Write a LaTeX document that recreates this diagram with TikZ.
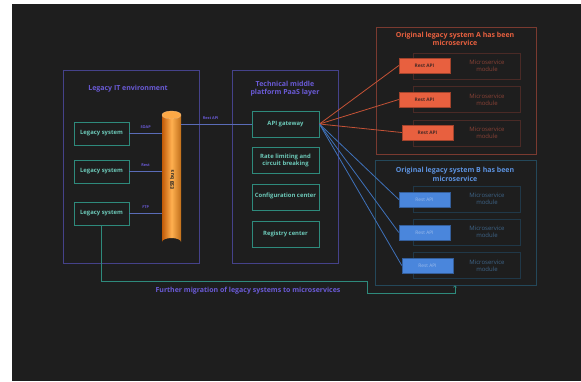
\documentclass[tikz,border=0pt]{standalone}
\usepackage{fontspec}
\setmainfont{Open Sans}
\usetikzlibrary{arrows.meta,calc}
\definecolor{bg}{HTML}{1E1E1E}
\definecolor{cont}{HTML}{45428A}
\definecolor{ttl}{HTML}{6A5AD6}
\definecolor{tealb}{HTML}{2E8A7C}
\definecolor{tealt}{HTML}{6CC8B8}
\definecolor{conn}{HTML}{5A6CB8}
\definecolor{redc}{HTML}{E8603F}
\definecolor{redb}{HTML}{7A3A30}
\definecolor{redm}{HTML}{4A2A26}
\definecolor{redtx}{HTML}{8A4236}
\definecolor{bluec}{HTML}{4A86DC}
\definecolor{blueb}{HTML}{24485A}
\definecolor{bluem}{HTML}{203848}
\definecolor{bluetx}{HTML}{3E6488}
\definecolor{orgA}{HTML}{F08A20}
\definecolor{orgB}{HTML}{FFB050}
\definecolor{orgC}{HTML}{C05A08}
\tikzset{
  x=1pt,y=-1pt,
  container/.style={draw=cont,line width=0.7pt},
  title/.style={text=ttl,font=\bfseries\fontsize{7}{8.4}\selectfont,align=center},
  tbox/.style={draw=tealb,line width=0.9pt,text=tealt,font=\bfseries\fontsize{5.9}{7.2}\selectfont,align=center,minimum width=#1,inner sep=0pt},
  lbl/.style={text=ttl,font=\bfseries\fontsize{3.8}{4.5}\selectfont},
  cline/.style={draw=conn,line width=0.8pt},
  modA/.style={draw=redm,line width=0.6pt,minimum width=107pt,minimum height=26pt,inner sep=0pt},
  modB/.style={draw=bluem,line width=0.6pt,minimum width=107pt,minimum height=26pt,inner sep=0pt},
  modtxt/.style={font=\fontsize{6}{7}\selectfont,align=center},
  restA/.style={fill=redc,draw=redc!70!black,line width=0.4pt,minimum width=51pt,minimum height=15pt,inner sep=0pt,text=redm,font=\bfseries\fontsize{4.8}{5.5}\selectfont},
  restB/.style={fill=bluec,draw=bluec!70!black,line width=0.4pt,minimum width=51pt,minimum height=15pt,inner sep=0pt,text=bluec!55!white,font=\fontsize{4.8}{5.5}\selectfont},
  redline/.style={draw=redc!85!black,line width=0.8pt},
  blueline/.style={draw=bluec!85!black,line width=0.8pt},
  migline/.style={draw=tealb,line width=0.8pt},
}
\begin{document}
\begin{tikzpicture}
\useasboundingbox (0,0) rectangle (581,381);
\fill[white] (0,0) rectangle (581,381);
\fill[bg] (12,4) rectangle (581,381);

% containers
\node[container,minimum width=136pt,minimum height=193pt,inner sep=0pt] (legacy) at (131,166.5) {};
\node[title] at (128,89) {Legacy IT environment};
\node[container,minimum width=106pt,minimum height=193pt,inner sep=0pt] (paas) at (285,166.5) {};
\node[title] at (285,88.5) {Technical middle\\platform PaaS layer};
\node[draw=redb,line width=0.7pt,minimum width=160pt,minimum height=127pt,inner sep=0pt] (sysA) at (456,90.5) {};
\node[title,text=redc] at (455,39) {Original legacy system A has been\\microservice};
\node[draw=blueb,line width=0.7pt,minimum width=161pt,minimum height=125pt,inner sep=0pt] (sysB) at (455.5,222.5) {};
\node[title,text=bluec!90!white] at (455,174.5) {Original legacy system B has been\\microservice};

% legacy systems
\node[tbox=55pt,minimum height=23pt] (ls1) at (101.5,133.5) {Legacy system};
\node[tbox=55pt,minimum height=23pt] (ls2) at (101.5,171.5) {Legacy system};
\node[tbox=55pt,minimum height=23pt] (ls3) at (101.5,213.5) {Legacy system};

% ESB cylinder
\coordinate (esbtop) at (171.5,115);
\shade[shading=axis,left color=orgC,right color=orgA!80!black,middle color=orgB] (162,115) -- (162,242) arc[start angle=180,end angle=360,x radius=9.5,y radius=4] -- (181,115) arc[start angle=0,end angle=180,x radius=9.5,y radius=4] -- cycle;
\fill[orgB!80!orgA] (esbtop) ellipse[x radius=9.5,y radius=4];
\draw[orgA!60!white,line width=0.3pt] (esbtop) ellipse[x radius=9.5,y radius=4];
\node[inner sep=0pt,minimum width=19pt,minimum height=135pt] (esb) at (171.5,178.5) {};
\node[rotate=90,text=black!85,font=\bfseries\fontsize{5}{6}\selectfont] at (172,180) {ESB bus};

\draw[cline] (ls1.east) -- (ls1.east -| esb.west) node[lbl,midway,above=1.5pt] {SOAP};
\draw[cline] (ls2.east) -- (ls2.east -| esb.west) node[lbl,midway,above=1.5pt] {Rest};
\draw[cline] (ls3.east) -- (ls3.east -| esb.west) node[lbl,midway,above=1.5pt] {FTP};

% PaaS
\node[tbox=67pt,minimum height=26pt] (gw) at (285.5,124) {API gateway};
\node[tbox=67pt,minimum height=26pt] (rl) at (285.5,160.5) {Rate limiting and\\circuit breaking};
\node[tbox=67pt,minimum height=26pt] (cc) at (285.5,197) {\raisebox{4pt}{Configuration center}};
\node[tbox=67pt,minimum height=26pt] (rc) at (285.5,234) {Registry center};

\coordinate (esbout) at (181,124);
\draw[cline] (esbout) -- (gw.west) node[lbl,pos=0.42,above=1pt] {Rest API};

% system A modules
\foreach \i/\y in {1/66,2/99.5,3/133}{
  \node[modA] (mA\i) at (466.5,\y) {};
  \node[modtxt,text=redtx] at (487,\y) {Microservice\\module};
}
\node[restA] (rA1) at (424.5,65.5) {Rest API};
\node[restA] (rA2) at (424.5,99.5) {Rest API};
\node[restA] (rA3) at (427.5,132.5) {Rest API};

% system B modules
\foreach \i/\y in {1/199,2/232,3/265.5}{
  \node[modB] (mB\i) at (466.5,\y) {};
  \node[modtxt,text=bluetx] at (487,\y) {Microservice\\module};
}
\node[restB] (rB1) at (424.5,199.5) {Rest API};
\node[restB] (rB2) at (424.5,232.5) {Rest API};
\node[restB] (rB3) at (427.5,265.5) {Rest API};

\foreach \t in {rA1,rA2,rA3}{\draw[redline] (gw.east) -- (\t.west);}
\foreach \t in {rB1,rB2,rB3}{\draw[blueline] (gw.east) -- (\t.west);}

% migration
\coordinate (m1) at (367,281);
\coordinate (m2) at (455,293);
\draw[migline,-{Straight Barb[length=1.5pt,width=3pt]}] (ls3.south) |- (m1) |- (m2) -- (m2 |- sysB.south);
\node[title] at (248,291) {Further migration of legacy systems to microservices};
\end{tikzpicture}
\end{document}
